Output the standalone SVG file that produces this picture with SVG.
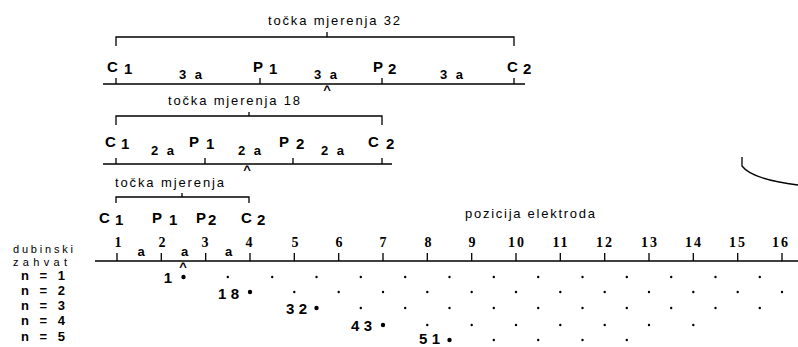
<svg xmlns="http://www.w3.org/2000/svg" width="798" height="347" viewBox="0 0 798 347">
<style>
.ln{stroke:#000;stroke-width:1.3;fill:none}
.t{font-family:"Liberation Sans",Arial,sans-serif;font-size:13px;fill:#000}
.t2{font-family:"Liberation Sans",Arial,sans-serif;font-size:11px;fill:#000}
.lb{font-family:"Liberation Sans",Arial,sans-serif;font-size:15px;font-weight:bold;fill:#000}
.nl{font-family:"Liberation Sans",Arial,sans-serif;font-size:13px;font-weight:bold;fill:#000}
.sm{font-family:"Liberation Sans",Arial,sans-serif;font-size:13px;font-weight:bold;fill:#000}
.num{font-family:"Liberation Serif","Times New Roman",serif;font-size:14px;font-weight:bold;fill:#000;text-anchor:middle}
.dot{fill:#000}
</style>
<rect width="798" height="347" fill="#fff"/>

<g id="config-32">
  <text class="t" x="268" y="25" textLength="132" lengthAdjust="spacing">točka mjerenja 32</text>
  <path class="ln" d="M116,46 V37 H514 V46 M327,37 V32"/>
  <path class="ln" d="M103,84 H525 M116,78 V84 M260,78 V84 M382,78 V84 M514,78 V84"/>
  <text class="lb" x="107" y="72">C</text><text class="lb" x="124" y="74">1</text>
  <text class="lb" x="253" y="72">P</text><text class="lb" x="269" y="74">1</text>
  <text class="lb" x="373" y="72">P</text><text class="lb" x="388" y="74">2</text>
  <text class="lb" x="507" y="72">C</text><text class="lb" x="523" y="74">2</text>
  <text class="sm" x="179" y="79" textLength="23" lengthAdjust="spacing">3a</text>
  <text class="sm" x="314" y="79" textLength="23" lengthAdjust="spacing">3a</text>
  <text class="sm" x="440" y="79" textLength="23" lengthAdjust="spacing">3a</text>
  <text class="sm" x="327" y="94" text-anchor="middle">^</text>
</g>

<g id="config-18">
  <text class="t" x="168" y="105" textLength="132" lengthAdjust="spacing">točka mjerenja 18</text>
  <path class="ln" d="M116,125 V116 H382 V125 M249,116 V112"/>
  <path class="ln" d="M103,164 H392 M116,158 V164 M205,158 V164 M293,158 V164 M382,158 V164"/>
  <text class="lb" x="105" y="147">C</text><text class="lb" x="121" y="149">1</text>
  <text class="lb" x="189" y="147">P</text><text class="lb" x="206" y="149">1</text>
  <text class="lb" x="279" y="147">P</text><text class="lb" x="296" y="149">2</text>
  <text class="lb" x="368" y="147">C</text><text class="lb" x="386" y="149">2</text>
  <text class="sm" x="151" y="155" textLength="23" lengthAdjust="spacing">2a</text>
  <text class="sm" x="238" y="155" textLength="23" lengthAdjust="spacing">2a</text>
  <text class="sm" x="321" y="155" textLength="23" lengthAdjust="spacing">2a</text>
  <text class="sm" x="247" y="174" text-anchor="middle">^</text>
</g>

<g id="config-1">
  <text class="t" x="115" y="187" textLength="109" lengthAdjust="spacing">točka mjerenja</text>
  <path class="ln" d="M116,203 V197 H249 V203 M182,197 V193"/>
  <text class="lb" x="99" y="223">C</text><text class="lb" x="115" y="225">1</text>
  <text class="lb" x="152" y="223">P</text><text class="lb" x="169" y="225">1</text>
  <text class="lb" x="196" y="223">P</text><text class="lb" x="208" y="225">2</text>
  <text class="lb" x="241" y="223">C</text><text class="lb" x="257" y="225">2</text>
</g>

<g id="axis">
  <text class="t" x="465" y="218" textLength="130" lengthAdjust="spacing">pozicija elektroda</text>
  <path class="ln" d="M95,261 H798 M117,253 V261 M161.3,253 V261 M205.7,253 V261 M250,253 V261 M294.3,253 V261 M338.7,253 V261 M383,253 V261 M427.3,253 V261 M471.7,253 V261 M516,253 V261 M560.3,253 V261 M604.7,253 V261 M649,253 V261 M693.3,253 V261 M737.7,253 V261 M782,253 V261"/>
  <text class="num" x="118" y="247">1</text>
  <text class="num" x="162" y="247">2</text>
  <text class="num" x="205" y="247">3</text>
  <text class="num" x="249" y="247">4</text>
  <text class="num" x="295" y="247">5</text>
  <text class="num" x="339" y="247">6</text>
  <text class="num" x="383" y="247">7</text>
  <text class="num" x="428" y="247">8</text>
  <text class="num" x="472" y="247">9</text>
  <text class="num" x="517" y="247" letter-spacing="2">10</text>
  <text class="num" x="561" y="247" letter-spacing="2">11</text>
  <text class="num" x="605" y="247" letter-spacing="2">12</text>
  <text class="num" x="650" y="247" letter-spacing="2">13</text>
  <text class="num" x="694" y="247" letter-spacing="2">14</text>
  <text class="num" x="738" y="247" letter-spacing="2">15</text>
  <text class="num" x="781" y="247" letter-spacing="2">16</text>
  <text class="sm" x="141" y="256" text-anchor="middle">a</text>
  <text class="sm" x="184.5" y="256" text-anchor="middle">a</text>
  <text class="sm" x="228.5" y="256" text-anchor="middle">a</text>
  <text class="sm" x="183" y="271" text-anchor="middle">^</text>
</g>

<g id="depth-labels">
  <text class="t2" x="13" y="253" textLength="60" lengthAdjust="spacing">dubinski</text>
  <text class="t2" x="13" y="266" textLength="54" lengthAdjust="spacing">zahvat</text>
  <text class="nl" x="21" y="280" textLength="44" lengthAdjust="spacing">n = 1</text>
  <text class="nl" x="21" y="295" textLength="44" lengthAdjust="spacing">n = 2</text>
  <text class="nl" x="21" y="310" textLength="44" lengthAdjust="spacing">n = 3</text>
  <text class="nl" x="21" y="325" textLength="44" lengthAdjust="spacing">n = 4</text>
  <text class="nl" x="21" y="341" textLength="44" lengthAdjust="spacing">n = 5</text>
</g>

<g id="points">
  <text class="lb" x="172" y="283" text-anchor="end">1</text>
  <text class="lb" x="218" y="299" textLength="21" lengthAdjust="spacing">18</text>
  <text class="lb" x="286" y="314" textLength="21" lengthAdjust="spacing">32</text>
  <text class="lb" x="351" y="331" textLength="21" lengthAdjust="spacing">43</text>
  <text class="lb" x="419" y="344" textLength="21" lengthAdjust="spacing">51</text>
  <g class="dot">
    <circle cx="183.5" cy="277" r="2.2"/>
    <circle cx="227.8" cy="277" r="1.2"/><circle cx="272.2" cy="277" r="1.2"/><circle cx="316.5" cy="277" r="1.2"/><circle cx="360.8" cy="277" r="1.2"/><circle cx="405.2" cy="277" r="1.2"/><circle cx="449.5" cy="277" r="1.2"/><circle cx="493.8" cy="277" r="1.2"/><circle cx="538.2" cy="277" r="1.2"/><circle cx="582.5" cy="277" r="1.2"/><circle cx="626.8" cy="277" r="1.2"/><circle cx="671.2" cy="277" r="1.2"/><circle cx="715.5" cy="277" r="1.2"/><circle cx="759.8" cy="277" r="1.2"/>
    <circle cx="250" cy="292" r="2.2"/>
    <circle cx="294.3" cy="292" r="1.2"/><circle cx="338.7" cy="292" r="1.2"/><circle cx="383" cy="292" r="1.2"/><circle cx="427.3" cy="292" r="1.2"/><circle cx="471.7" cy="292" r="1.2"/><circle cx="516" cy="292" r="1.2"/><circle cx="560.3" cy="292" r="1.2"/><circle cx="604.7" cy="292" r="1.2"/><circle cx="649" cy="292" r="1.2"/><circle cx="693.3" cy="292" r="1.2"/><circle cx="737.7" cy="292" r="1.2"/><circle cx="782" cy="292" r="1.2"/>
    <circle cx="316.5" cy="308" r="2.2"/>
    <circle cx="360.8" cy="308" r="1.2"/><circle cx="405.2" cy="308" r="1.2"/><circle cx="449.5" cy="308" r="1.2"/><circle cx="493.8" cy="308" r="1.2"/><circle cx="538.2" cy="308" r="1.2"/><circle cx="582.5" cy="308" r="1.2"/><circle cx="626.8" cy="308" r="1.2"/><circle cx="671.2" cy="308" r="1.2"/><circle cx="715.5" cy="308" r="1.2"/><circle cx="759.8" cy="308" r="1.2"/>
    <circle cx="383" cy="325" r="2.2"/>
    <circle cx="427.3" cy="325" r="1.2"/><circle cx="471.7" cy="325" r="1.2"/><circle cx="516" cy="325" r="1.2"/><circle cx="560.3" cy="325" r="1.2"/><circle cx="604.7" cy="325" r="1.2"/><circle cx="649" cy="325" r="1.2"/><circle cx="693.3" cy="325" r="1.2"/>
    <circle cx="449.5" cy="340" r="2.2"/>
    <circle cx="493.8" cy="340" r="1.2"/><circle cx="538.2" cy="340" r="1.2"/><circle cx="582.5" cy="340" r="1.2"/><circle cx="626.8" cy="340" r="1.2"/>
  </g>
</g>

<g id="arc">
  <path class="ln" d="M742,157 V166 C748,174 765,181 798,185" stroke-width="1.5"/>
</g>
</svg>
